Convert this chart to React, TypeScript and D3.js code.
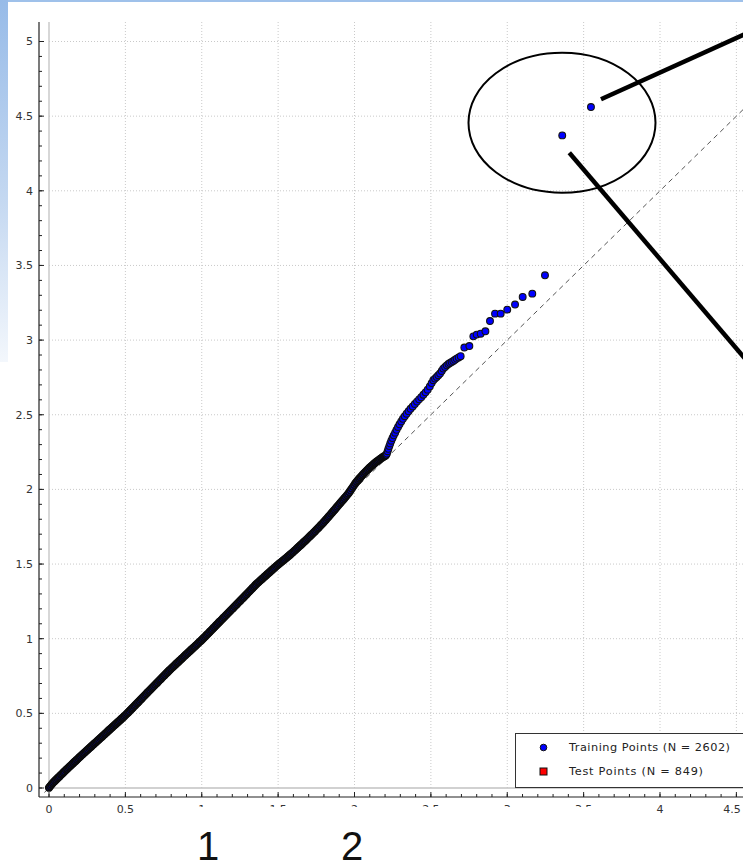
import React from "react";
import * as d3 from "d3";

// Q-Q style scatter: theoretical quantile (x) vs observed quantile (y)
const bulkPoints: [number, number][] = [
  [0,0.002],[0.007,0.011],[0.015,0.021],[0.023,0.031],[0.03,0.039],[0.038,0.047],[0.046,0.055],[0.054,0.064],[0.062,0.071],[0.07,0.079],[0.078,0.088],[0.086,0.095],[0.094,0.104],
  [0.102,0.111],[0.11,0.12],[0.118,0.127],[0.126,0.135],[0.134,0.143],[0.142,0.15],[0.15,0.158],[0.158,0.166],[0.166,0.174],[0.174,0.181],[0.182,0.189],[0.19,0.197],[0.198,0.205],
  [0.206,0.212],[0.214,0.22],[0.222,0.227],[0.23,0.235],[0.238,0.242],[0.246,0.25],[0.254,0.257],[0.262,0.265],[0.27,0.272],[0.278,0.28],[0.286,0.287],[0.294,0.295],
  [0.302,0.302],[0.31,0.309],[0.318,0.317],[0.326,0.324],[0.334,0.332],[0.342,0.339],[0.35,0.347],[0.358,0.354],[0.366,0.362],[0.374,0.369],[0.382,0.377],[0.39,0.385],[0.398,0.392],
  [0.406,0.399],[0.414,0.407],[0.422,0.414],[0.43,0.422],[0.438,0.429],[0.446,0.437],[0.454,0.444],[0.462,0.451],[0.47,0.459],[0.478,0.467],[0.486,0.474],[0.494,0.482],
  [0.502,0.49],[0.51,0.498],[0.518,0.506],[0.526,0.514],[0.534,0.523],[0.542,0.531],[0.55,0.539],[0.558,0.548],[0.566,0.556],[0.574,0.565],[0.582,0.573],[0.59,0.581],[0.598,0.59],
  [0.606,0.598],[0.614,0.607],[0.622,0.615],[0.63,0.624],[0.638,0.632],[0.646,0.641],[0.654,0.649],[0.662,0.657],[0.67,0.666],[0.678,0.674],[0.686,0.682],[0.694,0.691],
  [0.702,0.699],[0.71,0.707],[0.718,0.716],[0.726,0.724],[0.734,0.732],[0.742,0.741],[0.75,0.749],[0.758,0.757],[0.766,0.766],[0.774,0.774],[0.782,0.782],[0.79,0.79],[0.798,0.798],
  [0.806,0.806],[0.814,0.813],[0.822,0.821],[0.83,0.829],[0.838,0.837],[0.846,0.844],[0.854,0.852],[0.862,0.86],[0.87,0.867],[0.878,0.875],[0.886,0.883],[0.894,0.891],
  [0.902,0.898],[0.91,0.906],[0.918,0.913],[0.926,0.921],[0.934,0.929],[0.942,0.936],[0.95,0.944],[0.958,0.951],[0.966,0.959],[0.974,0.967],[0.982,0.975],[0.99,0.982],[0.998,0.99],
  [1.006,0.998],[1.014,1.006],[1.022,1.014],[1.03,1.023],[1.038,1.031],[1.046,1.039],[1.054,1.048],[1.062,1.056],[1.07,1.064],[1.078,1.073],[1.086,1.081],[1.094,1.09],
  [1.102,1.098],[1.11,1.107],[1.118,1.115],[1.126,1.123],[1.134,1.131],[1.142,1.14],[1.15,1.148],[1.158,1.156],[1.166,1.165],[1.174,1.173],[1.182,1.181],[1.19,1.19],[1.198,1.198],
  [1.206,1.206],[1.214,1.215],[1.222,1.223],[1.23,1.231],[1.238,1.24],[1.246,1.248],[1.254,1.256],[1.262,1.265],[1.27,1.273],[1.278,1.281],[1.286,1.29],[1.294,1.298],
  [1.302,1.307],[1.31,1.315],[1.318,1.324],[1.326,1.332],[1.334,1.341],[1.342,1.349],[1.35,1.358],[1.358,1.366],[1.366,1.374],[1.374,1.381],[1.382,1.389],[1.39,1.396],[1.398,1.403],
  [1.406,1.411],[1.414,1.418],[1.422,1.425],[1.43,1.433],[1.438,1.44],[1.446,1.447],[1.454,1.455],[1.462,1.462],[1.47,1.469],[1.478,1.476],[1.486,1.484],[1.494,1.491],
  [1.502,1.498],[1.51,1.505],[1.518,1.511],[1.526,1.518],[1.534,1.525],[1.542,1.531],[1.55,1.538],[1.558,1.545],[1.566,1.552],[1.574,1.559],[1.582,1.566],[1.59,1.573],[1.598,1.58],
  [1.606,1.588],[1.614,1.595],[1.622,1.603],[1.63,1.611],[1.638,1.618],[1.646,1.626],[1.654,1.633],[1.662,1.641],[1.67,1.649],[1.678,1.656],[1.686,1.664],[1.694,1.672],
  [1.702,1.68],[1.71,1.688],[1.718,1.696],[1.726,1.704],[1.734,1.712],[1.742,1.72],[1.75,1.729],[1.758,1.737],[1.766,1.745],[1.774,1.754],[1.782,1.763],[1.79,1.771],[1.798,1.78],
  [1.806,1.789],[1.814,1.798],[1.822,1.808],[1.83,1.817],[1.838,1.826],[1.846,1.836],[1.854,1.845],[1.862,1.855],[1.87,1.864],[1.878,1.874],[1.886,1.884],[1.894,1.893],
  [1.902,1.903],[1.91,1.912],[1.918,1.922],[1.926,1.931],[1.934,1.941],[1.942,1.95],[1.95,1.96],[1.958,1.97],[1.966,1.981],[1.974,1.993],[1.982,2.005],[1.99,2.017],[1.998,2.029],
  [2.006,2.041],[2.014,2.051],[2.022,2.061],[2.03,2.071],[2.038,2.08],[2.046,2.089],[2.054,2.098],[2.062,2.107],[2.07,2.116],[2.078,2.124],[2.086,2.132],[2.094,2.14],
  [2.102,2.148],[2.11,2.156],[2.118,2.163],[2.126,2.17],[2.134,2.177],[2.142,2.184],[2.15,2.19],[2.158,2.196],[2.166,2.202],[2.174,2.208],[2.182,2.214],[2.19,2.219],[2.198,2.224],[2.206,2.229],
];

// upper tail, where observed values pull away from the reference line
const tailPoints: [number, number][] = [
  [2.212,2.24],[2.217,2.256],[2.222,2.272],[2.228,2.29],[2.234,2.308],[2.241,2.326],[2.249,2.344],[2.257,2.362],[2.266,2.38],[2.275,2.399],
  [2.285,2.418],[2.295,2.436],[2.306,2.455],[2.317,2.473],[2.329,2.49],[2.341,2.507],[2.354,2.524],[2.367,2.54],[2.381,2.556],[2.395,2.572],
  [2.409,2.588],[2.423,2.603],[2.437,2.618],[2.451,2.634],[2.465,2.65],[2.479,2.668],[2.493,2.69],[2.505,2.712],[2.516,2.731],[2.527,2.742],
  [2.538,2.753],[2.549,2.765],[2.56,2.776],[2.571,2.793],[2.581,2.809],[2.593,2.82],[2.604,2.831],[2.615,2.84],[2.625,2.847],[2.636,2.854],
  [2.647,2.86],[2.658,2.868],[2.669,2.876],[2.682,2.884],[2.695,2.892],[2.719,2.95],[2.752,2.96],[2.778,3.025],[2.8,3.037],[2.826,3.043],
  [2.857,3.059],[2.887,3.128],[2.92,3.177],[2.957,3.177],[3.0,3.204],[3.051,3.238],[3.101,3.289],[3.164,3.311],[3.247,3.434],
];

// two isolated extreme values
const outlierPoints: [number, number][] = [[3.36,4.371],[3.548,4.561]];

const xTickValues = [0, 0.5, 1, 1.5, 2, 2.5, 3, 3.5, 4, 4.5];
const yTickValues = [0, 0.5, 1, 1.5, 2, 2.5, 3, 3.5, 4, 4.5, 5];
const xMinorTicks = d3.range(0, 4.86, 0.1);
const yMinorTicks = d3.range(0, 5.06, 0.1);

const legendLabels = ["Training Points (N = 2602)", "Test Points (N = 849)"];
const panelLabels = ["1", "2"];

const W = 743;
const H = 868;

const x = d3.scaleLinear().domain([0, 4]).range([49, 660]);
const y = d3.scaleLinear().domain([0, 5]).range([788, 41.5]);

const plotTop = 22;
const axisX = 39;
const axisY = 797;
const tickFont = "'DejaVu Sans', Verdana, sans-serif";

export default function App() {
  const sparsePoints = [...tailPoints, ...outlierPoints];
  const lineEnd = 4.7;
  // keep the right-most tick label inside the drawing
  const xLabelPos = (v: number) => Math.min(x(v), W - 11);
  return (
    <svg
      width={W}
      height={H}
      viewBox={`0 0 ${W} ${H}`}
      style={{ position: "absolute", left: 0, top: 0, background: "#fff" }}
    >
      <defs>
        <linearGradient id="edgeFade" x1="0" y1="0" x2="0" y2="1">
          <stop offset="0" stopColor="#97bbe8" />
          <stop offset="0.55" stopColor="#c4d8f1" />
          <stop offset="1" stopColor="#f3f7fc" />
        </linearGradient>
      </defs>
      <rect x={0} y={0} width={W} height={H} fill="#fff" />
      {/* window frame tint */}
      <rect x={0} y={0} width={W} height={2} fill="#9fc1ea" />
      <rect x={0} y={0} width={8} height={362} fill="url(#edgeFade)" />

      {/* dotted grid */}
      <g stroke="#c9c9c9" strokeWidth={1} strokeDasharray="1,2">
        {xTickValues.filter((v) => v > 0).map((v) => (
          <line key={`gx${v}`} x1={x(v)} x2={x(v)} y1={plotTop} y2={y(0)} />
        ))}
        {yTickValues.filter((v) => v > 0).map((v) => (
          <line key={`gy${v}`} x1={x(0)} x2={W} y1={y(v)} y2={y(v)} />
        ))}
      </g>
      {/* zero lines */}
      <g stroke="#c2c2c2" strokeWidth={1.3}>
        <line x1={x(0)} x2={x(0)} y1={plotTop} y2={y(0)} />
        <line x1={x(0)} x2={W} y1={y(0)} y2={y(0)} />
      </g>

      {/* y = x reference */}
      <line
        x1={x(-0.03)}
        y1={y(-0.03)}
        x2={x(lineEnd)}
        y2={y(lineEnd)}
        stroke="#555"
        strokeWidth={1}
        strokeDasharray="5,4"
      />

      {/* training points: the dense run overlaps into a dark band */}
      <g fill="#0000ff" stroke="#0a0a0a" strokeWidth={1.7}>
        {bulkPoints.map(([px, py], i) => (
          <circle key={`b${i}`} cx={x(px)} cy={y(py)} r={3.3} />
        ))}
      </g>
      <g fill="#0000ff" stroke="#111" strokeWidth={1.1}>
        {sparsePoints.map(([px, py], i) => (
          <circle key={`s${i}`} cx={x(px)} cy={y(py)} r={3.4} />
        ))}
      </g>

      {/* axes */}
      <g stroke="#222" strokeWidth={1.2}>
        <line x1={axisX} x2={axisX} y1={plotTop} y2={axisY} />
        <line x1={axisX} x2={W} y1={axisY} y2={axisY} />
      </g>
      <g stroke="#222" strokeWidth={1}>
        {yMinorTicks.map((v, i) => (
          <line key={`ym${i}`} x1={axisX} x2={axisX + 3} y1={y(v)} y2={y(v)} />
        ))}
        {yTickValues.map((v) => (
          <line key={`yM${v}`} x1={axisX} x2={axisX + 5} y1={y(v)} y2={y(v)} />
        ))}
        {xMinorTicks.map((v, i) => (
          <line key={`xm${i}`} x1={x(v)} x2={x(v)} y1={axisY} y2={axisY - 3} />
        ))}
        {xTickValues.map((v) => (
          <line key={`xM${v}`} x1={x(v)} x2={x(v)} y1={axisY} y2={axisY - 5} />
        ))}
      </g>
      <g fontFamily={tickFont} fontSize={11} fill="#333">
        {yTickValues.map((v) => (
          <text key={`yl${v}`} x={33} y={y(v)} dy="0.36em" textAnchor="end">
            {String(v)}
          </text>
        ))}
        {xTickValues.map((v) => (
          <text key={`xl${v}`} x={xLabelPos(v)} y={812.5} textAnchor="middle">
            {String(v)}
          </text>
        ))}
      </g>

      {/* legend */}
      <g>
        <rect x={515.5} y={733.5} width={240} height={54} fill="#fff" stroke="#333" strokeWidth={1} />
        <circle cx={543.5} cy={747.5} r={3.3} fill="#0000ff" stroke="#111" strokeWidth={1} />
        <rect x={540} y={768} width={7} height={7} fill="#ff0000" stroke="#111" strokeWidth={1} />
        <g fontFamily={tickFont} fontSize={11.3} fill="#222">
          <text x={569} y={751} textLength={161} lengthAdjust="spacing">{legendLabels[0]}</text>
          <text x={569} y={775} textLength={134} lengthAdjust="spacing">{legendLabels[1]}</text>
        </g>
      </g>

      {/* caption box with panel numbers */}
      <rect x={165} y={807} width={450} height={H - 807} fill="#fff" />
      <g fontFamily="'Liberation Sans', Arial, sans-serif" fontSize={40} fill="#111" textAnchor="middle">
        <text x={208} y={860}>{panelLabels[0]}</text>
        <text x={352} y={860}>{panelLabels[1]}</text>
      </g>

      {/* callout around the two extreme values */}
      <ellipse cx={562} cy={122.7} rx={93.5} ry={70} fill="none" stroke="#000" strokeWidth={2} />
      <line x1={601} y1={99.3} x2={760} y2={27.3} stroke="#000" strokeWidth={4.5} />
      <line x1={569.3} y1={152.7} x2={760} y2={376.2} stroke="#000" strokeWidth={4.5} />
    </svg>
  );
}
